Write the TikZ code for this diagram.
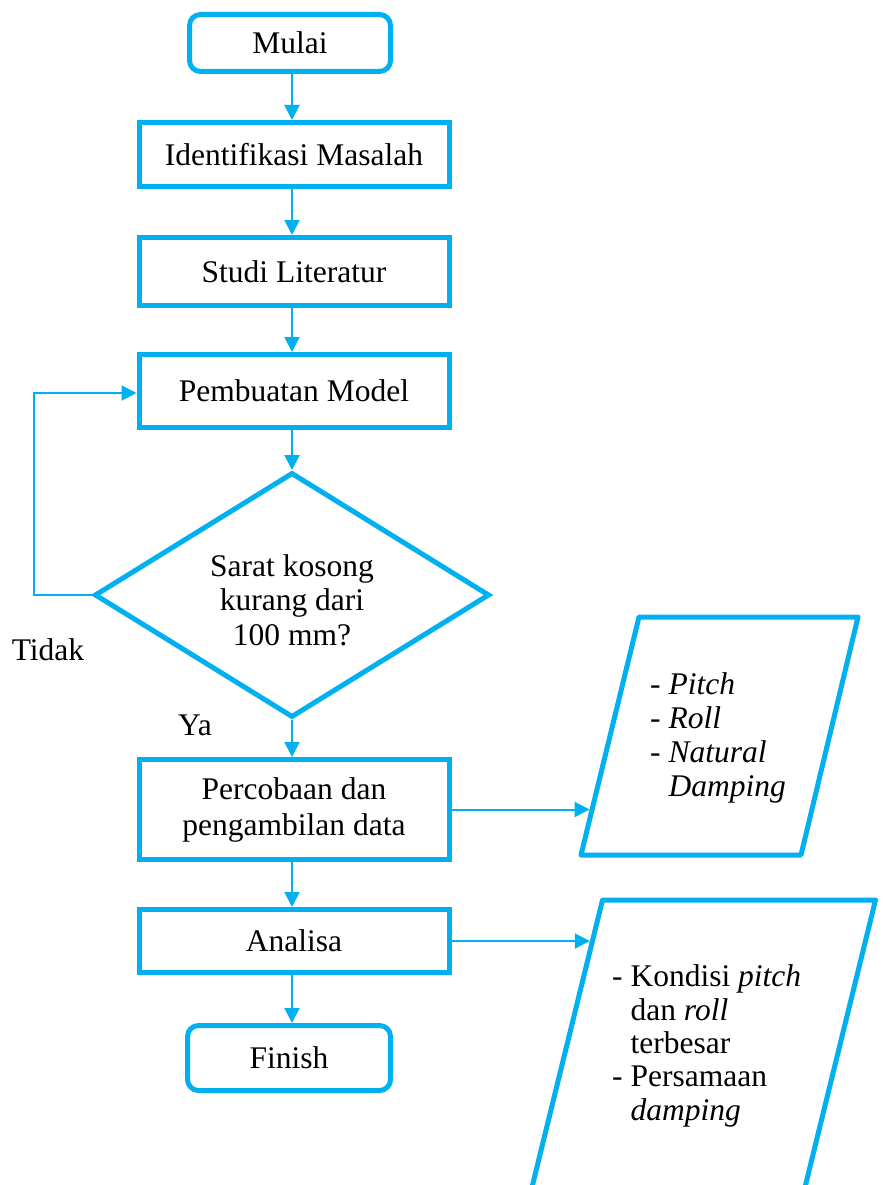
\documentclass[tikz,border=0pt]{standalone}
\usepackage{fontspec}
\setmainfont{Liberation Serif}
\usetikzlibrary{arrows.meta,shapes.geometric,calc}
\definecolor{fc}{RGB}{0,176,240}
\begin{document}
\begin{tikzpicture}[x=1pt,y=-1pt,
  base/.style={draw=fc, line width=5pt, font=\fontsize{31.5}{36}\selectfont, align=center, inner sep=0pt},
  proc/.style={base, rectangle, minimum width=310pt},
  term/.style={base, rectangle, rounded corners=11pt},
  dec/.style={base, diamond, aspect=1.6, minimum width=395pt, minimum height=245pt},
  arr/.style={draw=fc, line width=2pt, -{Triangle[length=15pt,width=15pt]}},
  lbl/.style={font=\fontsize{31.5}{36}\selectfont, inner sep=0pt},
  io/.style={draw=fc, line width=5pt, line join=round},
  iotext/.style={font=\fontsize{31.5}{34}\selectfont, align=left, inner sep=0pt, anchor=west}]
\useasboundingbox (0,0) rectangle (888,1185);

\node[term, minimum width=201pt, minimum height=57pt] (mulai) at (290,43) {Mulai};
\node[proc, minimum height=64pt] (ident) at (294,154.5) {Identifikasi Masalah};
\node[proc, minimum height=68pt] (studi) at (294,271.5) {Studi Literatur};
\node[proc, minimum height=73pt] (model) at (294,391) {Pembuatan Model};
\node[dec] (dia) at (292,595) {};
\node[lbl, align=center, font=\fontsize{31.5}{34.5}\selectfont] (diatext) at (292,600) {Sarat kosong\\kurang dari\\100 mm?};
\node[proc, minimum height=100pt] (perc) at (294,809.5) {Percobaan dan\\pengambilan data};
\node[proc, minimum height=63pt] (anal) at (294,941) {Analisa};
\node[term, minimum width=203pt, minimum height=65pt] (finish) at (289,1058) {Finish};

\node[lbl] (tidak) at (48,650) {Tidak};
\node[lbl] (ya) at (195,725) {Ya};

% parallelogram 1
\coordinate (p1tl) at (639,617);
\coordinate (p1tr) at (858,617);
\coordinate (p1br) at (801,855);
\coordinate (p1bl) at (581,855);
\draw[io] (p1tl) -- (p1tr) -- (p1br) -- (p1bl) -- cycle;
\node[iotext] (out1) at (650,738) {- \textit{Pitch}\\- \textit{Roll}\\- \textit{Natural}\\\phantom{- }\textit{Damping}};

% parallelogram 2 (cut by the page edge)
\coordinate (p2tl) at (602.5,900);
\coordinate (p2tr) at (875.5,900);
\coordinate (p2br) at (799.4,1210);
\coordinate (p2bl) at (526.4,1210);
\draw[io] (p2bl) -- (p2tl) -- (p2tr) -- (p2br);
\node[iotext, font=\fontsize{31.5}{33.3}\selectfont] (out2) at (612,1046) {- Kondisi \textit{pitch}\\\phantom{- }dan \textit{roll}\\\phantom{- }terbesar\\- Persamaan\\\phantom{- }\textit{damping}};

\coordinate (p1in) at (592.2,809.5);
\coordinate (p2in) at (592.4,941);

% connectors
\draw[arr] (mulai.south -| dia.north) -- (ident.north -| dia.north);
\draw[arr] (ident.south -| dia.north) -- (studi.north -| dia.north);
\draw[arr] (studi.south -| dia.north) -- (model.north -| dia.north);
\draw[arr] (model.south -| dia.north) -- (dia.north);
\draw[arr] (dia.south) -- (perc.north -| dia.south);
\draw[arr] (perc.south -| dia.south) -- (anal.north -| dia.south);
\draw[arr] (anal.south -| dia.south) -- (finish.north -| dia.south);
\draw[arr] (dia.west) -- ++(-58,0) |- ([yshift=-2pt]model.west);
\draw[arr, shorten >=2.6pt] (perc.east) -- (p1in);
\draw[arr, shorten >=2.6pt] (anal.east) -- (p2in);
\end{tikzpicture}
\end{document}
